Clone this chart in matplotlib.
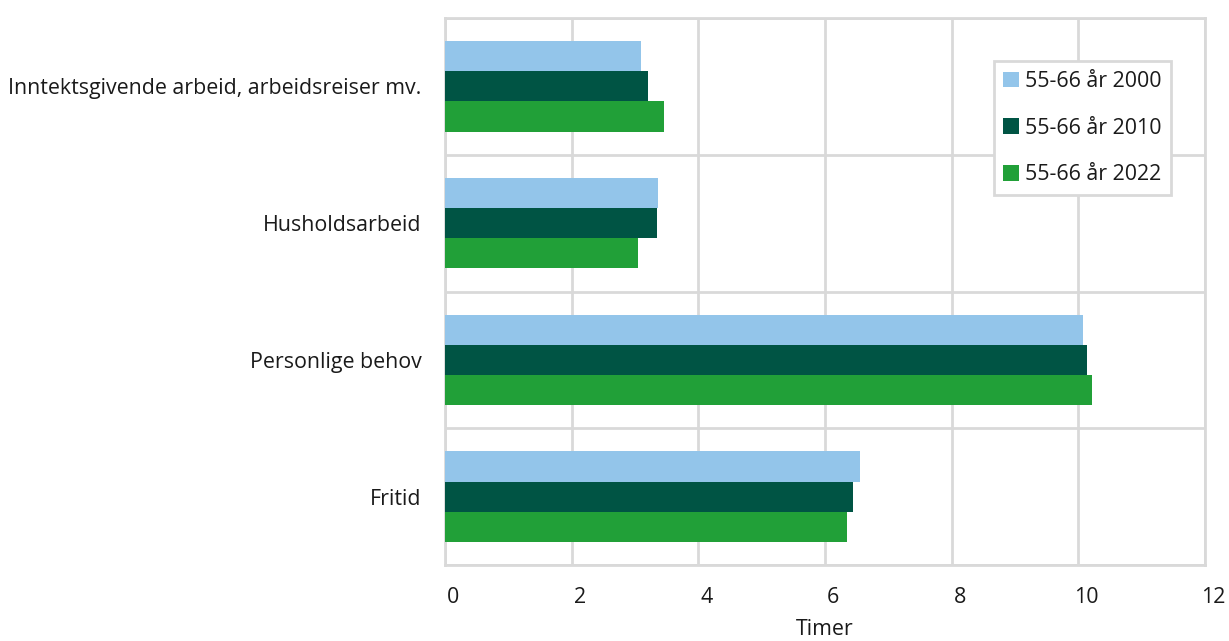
import matplotlib
matplotlib.use("Agg")
import matplotlib.pyplot as plt
import matplotlib.transforms as mtransforms
import numpy as np

plt.rcParams['font.family'] = ['Open Sans', 'DejaVu Sans']

categories = ["Inntektsgivende arbeid, arbeidsreiser mv.", "Husholdsarbeid", "Personlige behov", "Fritid"]
series_names = ["55-66 år 2000", "55-66 år 2010", "55-66 år 2022"]
v2000 = [3.09, 3.37, 10.07, 6.55]
v2010 = [3.21, 3.34, 10.13, 6.44]
v2022 = [3.46, 3.05, 10.21, 6.34]
xticks = [0, 2, 4, 6, 8, 10, 12]
xlabel = "Timer"

colors = ["#93c5ea", "#005444", "#21a038"]
grid_c = "#d9d9d9"
fs = 15.4

fig = plt.figure(figsize=(12.29, 6.41), dpi=100)
ax = fig.add_axes([445/1229, 76/641, 760/1229, 547/641])

y = np.arange(len(categories))
h = 0.22
for i, (vals, c, name) in enumerate(zip([v2000, v2010, v2022], colors, series_names)):
    ax.barh(y + (i - 1) * h, vals, height=h, color=c, label=name, zorder=3)

ax.set_xlim(0, 12)
ax.set_ylim(len(categories) - 0.5, -0.5)
ax.set_xticks(xticks)
ax.set_yticks(y)
ax.set_yticklabels(categories, fontsize=fs, color="#1a1a1a")
ax.set_yticks(np.arange(-0.5, len(categories) + 0.5, 1), minor=True)
ax.tick_params(axis='y', which='both', length=0, pad=17)
ax.tick_params(axis='x', length=0, pad=16, labelsize=fs, labelcolor="#1a1a1a")
offset = mtransforms.ScaledTranslation(8/100, 0, fig.dpi_scale_trans)
for lab in ax.get_xticklabels():
    lab.set_transform(lab.get_transform() + offset)

ax.grid(axis='x', which='major', color=grid_c, linewidth=2, zorder=0)
ax.grid(axis='y', which='minor', color=grid_c, linewidth=2, zorder=0)
ax.grid(axis='y', which='major', visible=False)
for s in ax.spines.values():
    s.set_color(grid_c)
    s.set_linewidth(2)
    s.set_zorder(0)

ax.set_xlabel(xlabel, fontsize=fs, color="#1a1a1a", labelpad=8)

leg = ax.legend(loc='upper right', bbox_to_anchor=(0.955, 0.921), fontsize=fs,
                handlelength=0.75, handleheight=0.75, handletextpad=0.25,
                labelspacing=1.2, borderpad=0.45, borderaxespad=0, fancybox=False,
                framealpha=1, edgecolor=grid_c)
leg.get_frame().set_linewidth(2)
for t in leg.get_texts():
    t.set_color("#1a1a1a")

fig.savefig("out.png", dpi=100)
